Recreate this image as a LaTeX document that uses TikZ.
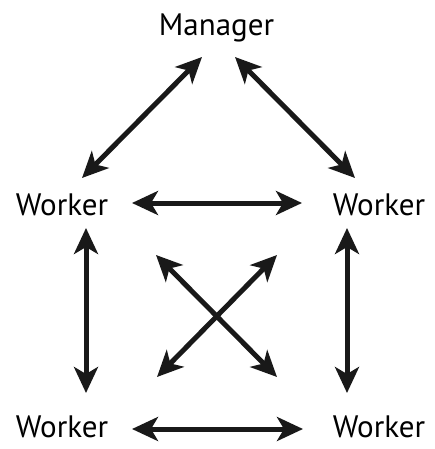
\documentclass[tikz,border=0pt]{standalone}
\usepackage{fontspec}
\setmainfont{PT Sans}
\usetikzlibrary{calc, arrows.meta, positioning}

\begin{document}
\begin{tikzpicture}[x=1pt, y=-1pt,
  >={Stealth[length=26pt, width=24pt, inset=7pt]},
  role/.style={inner sep=0pt, anchor=base, font=\fontsize{31}{31}\selectfont},
  link/.style={<->, line width=5pt, black!90}]
\useasboundingbox (0,0) rectangle (435,449);
% people
\node[role] (mgr) at (216.5,36) {Manager};
\node[role] (wl) at (62,215) {Worker};
\node[role] (wr) at (379,215) {Worker};
\node[role] (bl) at (62,437) {Worker};
\node[role] (br) at (379,437) {Worker};
% manager links
\draw[link] ([shift={(-14.5,21)}]mgr.base) -- ([shift={(20,-37)}]wl.base);
\draw[link] ([shift={(18.5,21)}]mgr.base) -- ([shift={(-24,-37)}]wr.base);
% worker links
\draw[link] ([shift={(70,-12)}]wl.base) -- ([shift={(-77,-12)}]wr.base);
\draw[link] ([shift={(70,-8)}]bl.base) -- ([shift={(-76,-8)}]br.base);
\draw[link] ([shift={(24,13)}]wl.base) -- ([shift={(24,-44)}]bl.base);
\draw[link] ([shift={(-32,13)}]wr.base) -- ([shift={(-32,-44)}]br.base);
% cross
\coordinate (xa) at (156,255);
\coordinate (xb) at (277,255);
\coordinate (xc) at (157,377);
\coordinate (xd) at (277,377);
\draw[link] (xa) -- (xd);
\draw[link] (xb) -- (xc);
\end{tikzpicture}
\end{document}
